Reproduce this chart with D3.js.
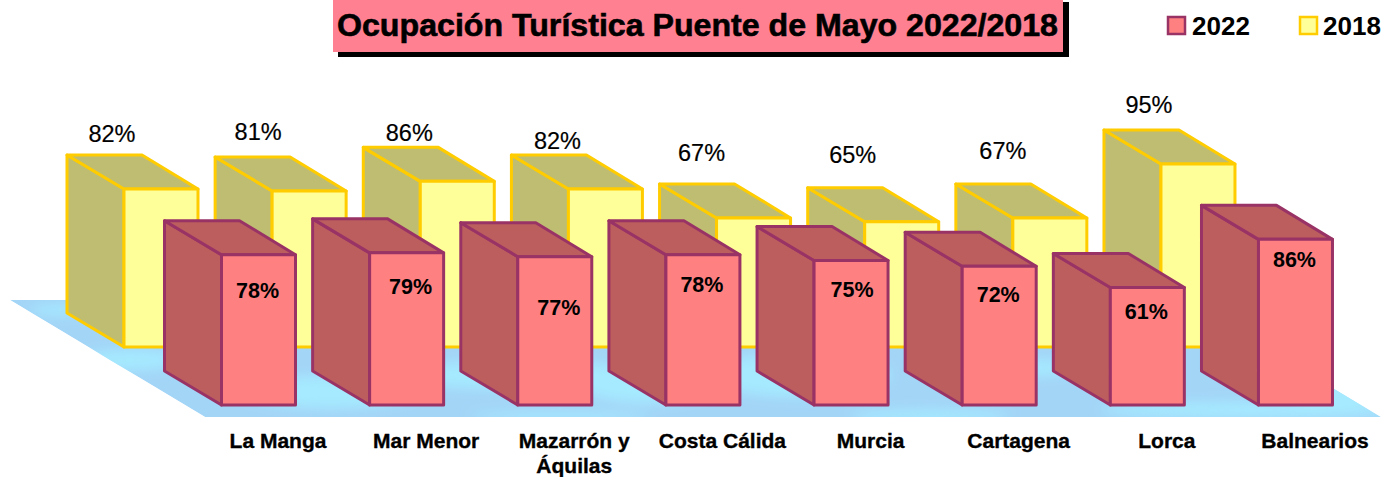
<!DOCTYPE html>
<html><head><meta charset="utf-8">
<script src="https://cdn.jsdelivr.net/npm/d3@7/dist/d3.min.js"></script>
<style>html,body{margin:0;padding:0;background:#fff}svg{display:block}text{font-family:"Liberation Sans",Arial,sans-serif;fill:#000}</style>
</head><body><svg id="c" width="1381" height="477"></svg>
<script>
const categories=["La Manga","Mar Menor","Mazarrón y|Áquilas","Costa Cálida","Murcia","Cartagena","Lorca","Balnearios"];
const values2022=[78,79,77,78,75,72,61,86];
const values2018=[82,81,86,82,67,65,67,95];
const titleText="Ocupación Turística Puente de Mayo 2022/2018";

// layout: per-label nudges, as the source chart placed them by hand
const nudge2018=[[-12,-55],[-14,-59],[-11,-48],[-11,-48],[-15,-65],[-12,-67],[-10,-67],[-12,-59]];
const nudge2022=[[0,36],[5,34],[5,51],[0,30],[2,29],[0,29],[0,24],[0,21]];

const svg=d3.select("#c");
const depthX=57,depthY=34,barW=74;
const x=d3.scaleBand().domain(d3.range(categories.length)).range([124,124+148.14*8]).paddingInner(0).paddingOuter(0);
const h=d3.scaleLinear().domain([0,100]).range([0,192.6]);
const colors={
 y:{front:"#FFFF99",side:"#BFBD72",top:"#BFBD72",stroke:"#FFCC00"},
 p:{front:"#FF8080",side:"#BD5E5E",top:"#BD5E5E",stroke:"#993366"}
};

const defs=svg.append("defs");
defs.append("filter").attr("id","soft").append("feGaussianBlur").attr("stdDeviation",6);
const floorPts=[[10,300],[1186,300],[1381,417],[205,417]];
defs.append("clipPath").attr("id","floorClip").append("polygon").attr("points",floorPts.join(" "));

const floor=svg.append("g").attr("clip-path","url(#floorClip)");
floor.append("polygon").attr("points",floorPts.join(" ")).attr("fill","#A3D5F7");
const patches=[[330,392,90,16],[520,375,130,14],[650,385,70,18],[800,375,90,22],[1010,368,70,9],[1250,410,150,8],[1335,392,45,14],[560,416,90,4],[930,416,80,6],[130,360,50,10],[60,310,30,5]];
floor.append("g").attr("filter","url(#soft)").selectAll("ellipse").data(patches).join("ellipse")
 .attr("cx",d=>d[0]).attr("cy",d=>d[1]).attr("rx",d=>d[2]).attr("ry",d=>d[3]).attr("fill","#A5EAFF");

function bars(values,baseY,shift,c){
 const g=svg.append("g").attr("stroke",c.stroke).attr("stroke-width",3).attr("stroke-linejoin","round");
 const b=g.selectAll("g").data(values).join("g");
 const X=(d,i)=>x(i)+shift;
 b.append("polygon").attr("fill",c.side).attr("points",(d,i)=>{const l=X(d,i),t=baseY-h(d);
  return [[l,t],[l-depthX,t-depthY],[l-depthX,baseY-depthY],[l,baseY]].join(" ")});
 b.append("polygon").attr("fill",c.top).attr("points",(d,i)=>{const l=X(d,i),t=baseY-h(d);
  return [[l,t],[l-depthX,t-depthY],[l-depthX+barW+1,t-depthY],[l+barW,t]].join(" ")});
 b.append("rect").attr("fill",c.front).attr("x",X).attr("y",d=>baseY-h(d)).attr("width",barW).attr("height",d=>h(d));
}
bars(values2018,347,0,colors.y);
bars(values2022,405,97.5,colors.p);

// value labels
svg.append("g").selectAll("text").data(values2018).join("text")
 .attr("x",(d,i)=>x(i)+barW/2-37+nudge2018[i][0]).attr("y",(d,i)=>347-h(d)+nudge2018[i][1]+8)
 .attr("text-anchor","middle").attr("font-size",23.5).attr("stroke","#000").attr("stroke-width",.2).text(d=>d+"%");
svg.append("g").selectAll("text").data(values2022).join("text")
 .attr("x",(d,i)=>x(i)+97.5+barW/2+nudge2022[i][0]-1).attr("y",(d,i)=>405-h(d)+nudge2022[i][1]+7)
 .attr("text-anchor","middle").attr("font-size",21.5).attr("font-weight","bold").text(d=>d+"%");

// category axis
const catG=svg.append("g").attr("font-weight","bold").attr("font-size",21);
catG.selectAll("text").data(categories).join("text")
 .attr("text-anchor","middle").attr("stroke","#000").attr("stroke-width",.35)
 .each(function(d,i){
  const t=d3.select(this),cx=x(i)+154;
  d.split("|").forEach((s,j)=>t.append("tspan").attr("x",cx).attr("y",448+j*24.5).text(s));
 });

// title
svg.append("rect").attr("x",338).attr("y",2).attr("width",731).attr("height",55).attr("fill","#000");
svg.append("rect").attr("x",333).attr("y",0).attr("width",730).attr("height",52).attr("fill","#FF8090");
svg.append("text").attr("x",337).attr("y",36).attr("font-size",31.5).attr("font-weight","bold")
 .attr("stroke","#000").attr("stroke-width",.6).attr("textLength",721).attr("lengthAdjust","spacingAndGlyphs").text(titleText);

// legend
const legend=[["2022",1168,colors.p,1192],["2018",1300,colors.y,1323]];
const lg=svg.append("g").selectAll("g").data(legend).join("g");
lg.append("rect").attr("x",d=>d[1]).attr("y",17).attr("width",17).attr("height",17)
 .attr("fill",d=>d[2].front).attr("stroke",d=>d[2].stroke).attr("stroke-width",2.5);
lg.append("text").attr("x",d=>d[3]).attr("y",35).attr("font-size",26).attr("font-weight","bold").text(d=>d[0]);
</script></body></html>
